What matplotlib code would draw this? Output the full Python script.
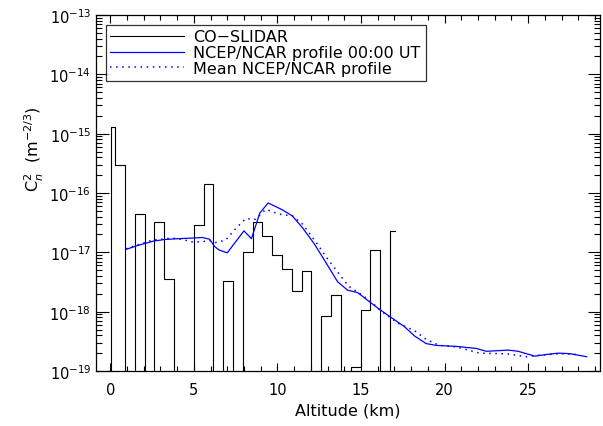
import numpy as np
import matplotlib.pyplot as plt
from matplotlib.ticker import FixedLocator, LogLocator, NullFormatter

# CO-SLIDAR Cn2 profile: bin edges (km) and value per bin (0 = below plot floor)
lidar_edges = [0.04, 0.30, 0.887, 1.474, 2.061, 2.648, 3.235, 3.822, 4.409, 4.996,
               5.583, 6.17, 6.757, 7.344, 7.931, 8.518, 9.105, 9.692, 10.279,
               10.866, 11.453, 12.04, 12.627, 13.214, 13.80, 14.388, 14.975,
               15.562, 16.149, 16.736, 17.03]
lidar_cn2 = [1.3e-15, 3.0e-16, 0, 4.4e-17, 0, 3.3e-17, 3.5e-18, 0, 0, 2.9e-17,
             1.4e-16, 0, 3.3e-18, 0, 1.0e-17, 3.2e-17, 1.9e-17, 9.0e-18, 5.3e-18,
             2.2e-18, 4.9e-18, 0, 8.3e-19, 1.9e-18, 0, 1.17e-19, 1.07e-18,
             1.1e-17, 0, 2.3e-17]

# NCEP/NCAR profile at 00:00 UT
ncep_alt = [0.94, 1.7, 2.6, 3.3, 4.1, 4.9, 5.5, 5.95, 6.25, 6.5, 7.0, 8.0, 8.45,
            8.95, 9.45, 10.3, 10.9, 11.5, 12.2, 12.8, 13.6, 14.2, 14.8, 15.4,
            16.1, 16.8, 17.6, 18.2, 18.9, 19.5, 20.7, 21.9, 22.5, 23.2, 23.8,
            24.4, 25.4, 26.1, 26.8, 27.5, 28.5]
ncep_cn2 = [1.12e-17, 1.32e-17, 1.55e-17, 1.65e-17, 1.7e-17, 1.74e-17, 1.78e-17,
            1.66e-17, 1.25e-17, 1.1e-17, 9.8e-18, 2.3e-17, 1.7e-17, 4.6e-17,
            6.8e-17, 5.2e-17, 4.1e-17, 2.6e-17, 1.4e-17, 7.5e-18, 3.2e-18,
            2.3e-18, 2.1e-18, 1.55e-18, 1.1e-18, 8.0e-19, 5.6e-19, 3.9e-19,
            2.9e-19, 2.7e-19, 2.6e-19, 2.4e-19, 2.15e-19, 2.2e-19, 2.25e-19,
            2.15e-19, 1.78e-19, 1.9e-19, 2.0e-19, 1.96e-19, 1.74e-19]

# Mean NCEP/NCAR profile
mean_alt = [0.94, 1.7, 2.5, 3.7, 4.3, 4.9, 5.5, 5.9, 6.3, 6.9, 7.5, 8.1, 8.7,
            9.3, 10.1, 10.9, 11.5, 12.3, 12.9, 13.5, 14.25, 14.85, 15.45,
            16.25, 17.25, 18.2, 18.9, 19.7, 20.7, 22.1, 23.7, 24.9, 25.7,
            26.9, 27.9]
mean_cn2 = [1.15e-17, 1.35e-17, 1.6e-17, 1.74e-17, 1.65e-17, 1.5e-17, 1.5e-17,
            1.6e-17, 1.46e-17, 1.6e-17, 2.5e-17, 3.7e-17, 3.6e-17, 5.3e-17,
            4.4e-17, 4.1e-17, 3.0e-17, 1.5e-17, 8.5e-18, 5.1e-18, 2.7e-18,
            2.1e-18, 1.6e-18, 1.0e-18, 6.3e-19, 4.8e-19, 3.4e-19, 2.7e-19,
            2.55e-19, 2.0e-19, 1.95e-19, 1.74e-19, 1.85e-19, 1.96e-19, 1.9e-19]

y_decades = [1e-19, 1e-18, 1e-17, 1e-16, 1e-15, 1e-14, 1e-13]

blue = "#0000ff"
fs = 10.5

# build the histogram outline (starts from below the axis, no drop at the end)
floor = 1e-30
vals = np.where(np.array(lidar_cn2) > 0, lidar_cn2, floor)
hx = np.concatenate([[lidar_edges[0]], np.repeat(lidar_edges, 2)[1:-1]])
hy = np.concatenate([[floor], np.repeat(vals, 2)])

fig = plt.figure(figsize=(6.03, 4.27), dpi=100)
ax = fig.add_axes([96 / 603, 55 / 427, 504 / 603, 356 / 427])

ax.plot(hx, hy, color="black", lw=0.8, label="CO\u2212SLIDAR")
ax.plot(ncep_alt, ncep_cn2, color=blue, lw=0.9, label="NCEP/NCAR profile 00:00 UT")
ax.plot(mean_alt, mean_cn2, color=blue, lw=1.1, ls=(0, (1, 3)),
        label="Mean NCEP/NCAR profile")

ax.set_yscale("log")
ax.set_ylim(1e-19, 1e-13)
ax.yaxis.set_major_locator(FixedLocator(y_decades))
ax.yaxis.set_minor_locator(LogLocator(base=10, subs=np.arange(2, 10)))
ax.yaxis.set_minor_formatter(NullFormatter())
ax.set_xlim(-0.85, 29.3)
ax.set_xticks([0, 5, 10, 15, 20, 25])
ax.set_xticks(np.arange(0, 30), minor=True)

ax.tick_params(which="both", direction="in", top=True, right=True, labelsize=fs,
               width=0.8)
ax.tick_params(which="major", length=9)
ax.tick_params(which="minor", length=4.5)
ax.tick_params(axis="x", which="major", length=6, pad=8)
ax.tick_params(axis="x", which="minor", length=3.5)
for s in ax.spines.values():
    s.set_linewidth(0.9)

ax.set_xlabel("Altitude (km)", fontsize=11.5, labelpad=4)
ax.set_ylabel(r"C$_n^2$  (m$^{-2/3}$)", fontsize=11.5)
ax.yaxis.set_label_coords(-0.099, 0.625)

leg = ax.legend(loc="upper left", fontsize=11.5, handlelength=4.6, frameon=True,
                fancybox=False, borderaxespad=0.6, borderpad=0.3,
                labelspacing=0.05, handletextpad=0.6)
leg.get_frame().set_edgecolor("black")
leg.get_frame().set_linewidth(0.9)

fig.savefig("out.png", dpi=100)
